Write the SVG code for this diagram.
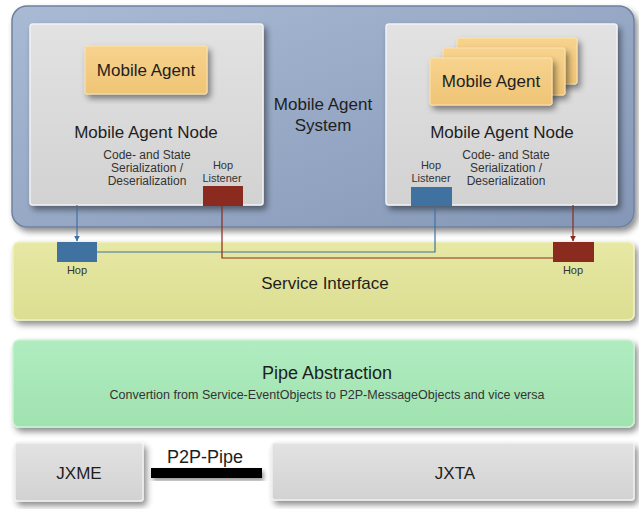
<svg xmlns="http://www.w3.org/2000/svg" width="639" height="509" viewBox="0 0 639 509">
<defs>
<filter id="sh" x="-10%" y="-10%" width="125%" height="130%">
<feDropShadow dx="3" dy="4" stdDeviation="3" flood-color="#000" flood-opacity="0.45"/>
</filter>
<filter id="shs" x="-10%" y="-10%" width="130%" height="140%">
<feDropShadow dx="2" dy="3" stdDeviation="2" flood-color="#000" flood-opacity="0.4"/>
</filter>
<linearGradient id="gBlue" x1="0" y1="0" x2="1" y2="1">
<stop offset="0" stop-color="#a9bad4"/>
<stop offset="1" stop-color="#8497b6"/>
</linearGradient>
<linearGradient id="gGrey" x1="0" y1="0" x2="0" y2="1">
<stop offset="0" stop-color="#e2e2e2"/>
<stop offset="1" stop-color="#d2d2d2"/>
</linearGradient>
<linearGradient id="gYellow" x1="0" y1="0" x2="0" y2="1">
<stop offset="0" stop-color="#e6e8a4"/>
<stop offset="1" stop-color="#dcde92"/>
</linearGradient>
<linearGradient id="gGreen" x1="0" y1="0" x2="0" y2="1">
<stop offset="0" stop-color="#b0ecc0"/>
<stop offset="1" stop-color="#a0e2b0"/>
</linearGradient>
<linearGradient id="gOrange" x1="0" y1="0" x2="0" y2="1">
<stop offset="0" stop-color="#f7d38e"/>
<stop offset="1" stop-color="#efc475"/>
</linearGradient>
<marker id="arB" viewBox="0 0 10 10" refX="9" refY="5" markerWidth="5" markerHeight="5" orient="auto">
<path d="M0,0 L10,5 L0,10 z" fill="#3f72a0"/>
</marker>
<marker id="arR" viewBox="0 0 10 10" refX="9" refY="5" markerWidth="5" markerHeight="5" orient="auto">
<path d="M0,0 L10,5 L0,10 z" fill="#8b2a1e"/>
</marker>
</defs>
<style>
text { font-family: "Liberation Sans", Arial, sans-serif; fill: #1e1e1e; text-anchor: middle; }
.t17 { font-size: 17px; }
.t18 { font-size: 18px; }
.t12 { font-size: 12px; fill: #333; }
.t11 { font-size: 11px; fill: #333; }
.node { fill: url(#gGrey); stroke: #f2f2f2; stroke-width: 1.5; filter: url(#sh); }
.agent { fill: url(#gOrange); stroke: #fbe3b0; stroke-width: 1; filter: url(#sh); }
.blueport { fill: #3f72a0; }
.redport { fill: #8b2a1e; }
.lb { fill: none; stroke: #3f72a0; stroke-width: 1.2; }
.lr { fill: none; stroke: #8b2a1e; stroke-width: 1.2; }
</style>
<rect width="639" height="509" fill="#ffffff"/>

<g id="mobile-agent-system">
<rect x="12" y="6" width="622" height="221" rx="15" fill="url(#gBlue)" stroke="#6f819f" stroke-width="1.5" filter="url(#sh)"/>
<text class="t17" x="323" y="110">Mobile Agent</text>
<text class="t17" x="323" y="131">System</text>
</g>

<g id="node-left">
<rect class="node" x="30" y="24" width="233" height="181" rx="3"/>
<rect class="agent" x="85" y="46" width="122" height="48" rx="2"/>
<text class="t17" x="146" y="76">Mobile Agent</text>
<text class="t17" x="146" y="138">Mobile Agent Node</text>
<text class="t12" x="147" y="159">Code- and State</text>
<text class="t12" x="147" y="172">Serialization /</text>
<text class="t12" x="147" y="185">Deserialization</text>
</g>

<g id="hop-listener-left">
<text class="t11" x="223" y="169">Hop</text>
<text class="t11" x="222" y="182">Listener</text>
<rect class="redport" x="203" y="186" width="40" height="20"/>
</g>

<g id="node-right">
<rect class="node" x="386" y="24" width="231" height="181" rx="3"/>
<rect class="agent" x="457" y="38" width="120" height="46" rx="2"/>
<rect class="agent" x="443" y="48" width="122" height="47" rx="2"/>
<rect class="agent" x="430" y="58" width="122" height="47" rx="2"/>
<text class="t17" x="491" y="87">Mobile Agent</text>
<text class="t17" x="502" y="138">Mobile Agent Node</text>
<text class="t12" x="506" y="159">Code- and State</text>
<text class="t12" x="506" y="172">Serialization /</text>
<text class="t12" x="506" y="185">Deserialization</text>
</g>

<g id="hop-listener-right">
<text class="t11" x="431" y="169">Hop</text>
<text class="t11" x="431" y="182">Listener</text>
<rect class="blueport" x="411" y="187" width="41" height="19"/>
</g>

<g id="service-interface">
<rect x="13" y="242" width="621" height="78" rx="6" fill="url(#gYellow)" stroke="#f0f2c0" stroke-width="1.5" filter="url(#sh)"/>
<text class="t17" x="325" y="289">Service Interface</text>
</g>

<g id="hop-left">
<rect class="blueport" x="57" y="242" width="40" height="20"/>
<text class="t11" x="77" y="274">Hop</text>
</g>

<g id="hop-right">
<rect class="redport" x="553" y="242" width="41" height="20"/>
<text class="t11" x="573" y="274">Hop</text>
</g>

<g id="connectors">
<path class="lb" d="M77,205 V241" marker-end="url(#arB)"/>
<path class="lb" d="M435,206 V252 H97"/>
<path class="lr" d="M222,206 V258 H553"/>
<path class="lr" d="M573,205 V241" marker-end="url(#arR)"/>
</g>

<g id="pipe-abstraction">
<rect x="13" y="340" width="621" height="87" rx="6" fill="url(#gGreen)" stroke="#c8f4d2" stroke-width="1.5" filter="url(#sh)"/>
<text class="t18" x="327" y="379">Pipe Abstraction</text>
<text class="t12" x="327" y="399" style="font-size:12.5px">Convertion from Service-EventObjects to P2P-MessageObjects and vice versa</text>
</g>

<g id="jxme">
<rect x="15" y="443" width="128" height="58" rx="3" fill="url(#gGrey)" stroke="#f0f0f0" stroke-width="1.5" filter="url(#sh)"/>
<text class="t17" x="79" y="479">JXME</text>
</g>

<g id="p2p-pipe">
<text class="t18" x="205" y="463">P2P-Pipe</text>
<rect x="151" y="468" width="111" height="10" fill="#000" filter="url(#shs)"/>
</g>

<g id="jxta">
<rect x="272" y="443" width="362" height="57" rx="3" fill="url(#gGrey)" stroke="#f0f0f0" stroke-width="1.5" filter="url(#sh)"/>
<text class="t17" x="455" y="479">JXTA</text>
</g>
</svg>
